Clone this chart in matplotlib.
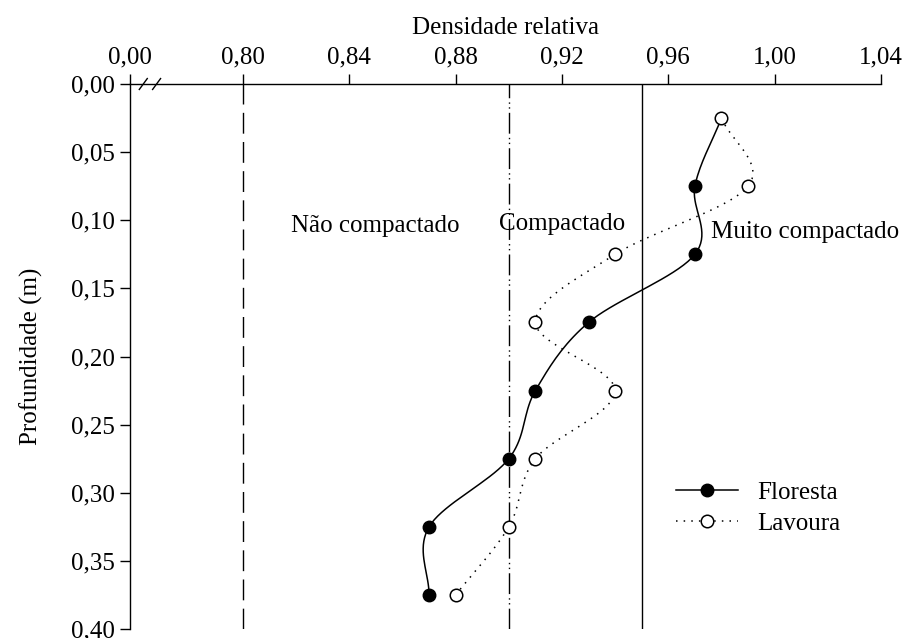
import matplotlib.pyplot as plt
import numpy as np

plt.rcParams['font.family'] = ['Liberation Serif', 'DejaVu Serif']
plt.rcParams['font.size'] = 18

prof = [0.025, 0.075, 0.125, 0.175, 0.225, 0.275, 0.325, 0.375]
floresta = [0.98, 0.97, 0.97, 0.93, 0.91, 0.90, 0.87, 0.87]
lavoura = [0.98, 0.99, 0.94, 0.91, 0.94, 0.91, 0.90, 0.88]
xticks = [0.7575, 0.80, 0.84, 0.88, 0.92, 0.96, 1.00, 1.04]
xlabels = ['0,00', '0,80', '0,84', '0,88', '0,92', '0,96', '1,00', '1,04']
yticks = [0.0, 0.05, 0.10, 0.15, 0.20, 0.25, 0.30, 0.35, 0.40]
ylabels = ['0,00', '0,05', '0,10', '0,15', '0,20', '0,25', '0,30', '0,35', '0,40']
limites = [0.80, 0.90, 0.95]
classes = ['Não compactado', 'Compactado', 'Muito compactado']


def smooth(x, y, n=20):
    # catmull-rom through the points, only for drawing the curve
    p = np.column_stack([x, y])
    p = np.vstack([2 * p[0] - p[1], p, 2 * p[-1] - p[-2]])
    out = []
    t = np.linspace(0, 1, n)[:, None]
    for i in range(1, len(p) - 2):
        p0, p1, p2, p3 = p[i - 1], p[i], p[i + 1], p[i + 2]
        c = 0.5 * ((2 * p1) + (-p0 + p2) * t + (2 * p0 - 5 * p1 + 4 * p2 - p3) * t**2
                   + (-p0 + 3 * p1 - 3 * p2 + p3) * t**3)
        out.append(c)
    c = np.vstack(out)
    return c[:, 0], c[:, 1]


fig = plt.figure(figsize=(9.05, 6.38), dpi=100)
ax = fig.add_axes([130 / 905, 1 - 629 / 638, 751 / 905, 545 / 638])

ax.axvline(limites[0], color='k', lw=1, dashes=(15, 6))
ax.axvline(limites[1], color='k', lw=1, dashes=(15, 3, 1, 2.5, 1, 3))
ax.axvline(limites[2], color='k', lw=1)

fx, fy = smooth(floresta, prof)
ax.plot(fx, fy, color='k', lw=1.1)
ax.plot(floresta[1:], prof[1:], 'o', color='k', ms=9)
lx, ly = smooth(lavoura, prof)
ax.plot(lx, ly, color='k', lw=1.1, ls=(0, (1, 4)))
ax.plot(lavoura, prof, 'o', mfc='white', mec='k', mew=1.1, ms=9)

# legend handles
ax.plot([], [], '-o', color='k', lw=1.1, ms=9, label='Floresta')
ax.plot([], [], 'o', ls=(0, (1, 4)), color='k', lw=1.1, mfc='white', mec='k', mew=1.1, ms=9, label='Lavoura')
h, l = ax.get_legend_handles_labels()
ax.legend(h, l, loc='center left', bbox_to_anchor=(0.71, 0.222), frameon=False,
          handlelength=2.5, labelspacing=0.35, handletextpad=0.75, borderpad=0)

ax.text(0.8497, 0.104, classes[0], ha='center', va='center')
ax.text(0.92, 0.103, classes[1], ha='center', va='center')
ax.text(1.0115, 0.1086, classes[2], ha='center', va='center')

ax.set_xlim(xticks[0], 1.04)
ax.set_ylim(0.40, 0.0)
ax.xaxis.tick_top()
ax.xaxis.set_label_position('top')
ax.set_xticks(xticks)
ax.set_xticklabels(xlabels)
ax.set_yticks(yticks)
ax.set_yticklabels(ylabels)
ax.set_xlabel('Densidade relativa', labelpad=9)
ax.set_ylabel('Profundidade (m)', labelpad=20)
ax.tick_params(direction='out', length=7, width=1, pad=4)
for s in ['right', 'bottom']:
    ax.spines[s].set_visible(False)
for s in ['left', 'top']:
    ax.spines[s].set_linewidth(1)

# axis break marks
for xb in [0.7625, 0.7675]:
    ax.plot([xb - 0.0015, xb + 0.0015], [0.004, -0.004], color='k', lw=1, clip_on=False)

fig.savefig('out.png', dpi=100)
